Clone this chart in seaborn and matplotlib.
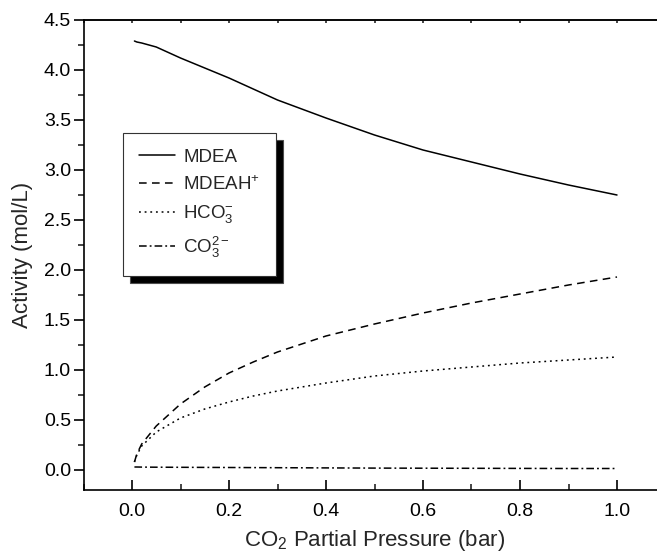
import matplotlib
matplotlib.use("Agg")
import matplotlib.pyplot as plt
from matplotlib.ticker import MultipleLocator, NullFormatter
import seaborn as sns

# CO2 partial pressure (bar)
pressure = [0.005, 0.01, 0.02, 0.05, 0.1, 0.15, 0.2, 0.25, 0.3, 0.4, 0.5, 0.6, 0.7, 0.8, 0.9, 1.0]

# activities (mol/L)
mdea = [4.29, 4.28, 4.27, 4.23, 4.12, 4.02, 3.92, 3.81, 3.70, 3.52, 3.35, 3.20, 3.08, 2.96, 2.85, 2.75]
mdeah = [0.08, 0.16, 0.26, 0.44, 0.66, 0.83, 0.97, 1.08, 1.18, 1.34, 1.46, 1.57, 1.67, 1.76, 1.85, 1.93]
hco3 = [0.08, 0.15, 0.24, 0.38, 0.52, 0.61, 0.68, 0.74, 0.79, 0.87, 0.94, 0.99, 1.03, 1.07, 1.10, 1.13]
co3 = [0.030, 0.030, 0.029, 0.028, 0.027, 0.026, 0.025, 0.024, 0.023, 0.021, 0.019, 0.018, 0.017,
       0.016, 0.015, 0.015]

labels = ["MDEA", r"MDEAH$^{+}$", r"HCO$_3^{-}$", r"CO$_3^{2-}$"]
styles = ["-", (0, (5, 3.5)), (0, (1.2, 2.5)), (0, (5, 2, 1.2, 2))]

sns.set_theme(style="ticks")
plt.rcParams["font.family"] = ["Liberation Sans", "DejaVu Sans"]
plt.rcParams["mathtext.fontset"] = "custom"
plt.rcParams["mathtext.rm"] = "Liberation Sans"
plt.rcParams["mathtext.it"] = "Liberation Sans:italic"
plt.rcParams["mathtext.default"] = "regular"

fig = plt.figure(figsize=(6.57, 5.59), dpi=100)
# axes runs to x=1.1, slightly past the right edge of the picture
ax = fig.add_axes([83.5 / 657, 69 / 559, 582 / 657, 470 / 559])

for y, lab, ls in zip([mdea, mdeah, hco3, co3], labels, styles):
    sns.lineplot(x=pressure, y=y, ax=ax, color="black", linestyle=ls,
                 linewidth=1.1, label=lab, legend=False)

ax.set_xlim(-0.1, 1.1)
ax.set_ylim(-0.2, 4.5)
ax.xaxis.set_major_locator(MultipleLocator(0.2))
ax.xaxis.set_minor_locator(MultipleLocator(0.1))
ax.yaxis.set_major_locator(MultipleLocator(0.5))
ax.yaxis.set_minor_locator(MultipleLocator(0.25))
ax.xaxis.set_major_formatter(plt.FuncFormatter(lambda v, _: f"{v:.1f}"))
ax.yaxis.set_major_formatter(plt.FuncFormatter(lambda v, _: f"{v:.1f}"))

for s in ax.spines.values():
    s.set_linewidth(1.2)
    s.set_color("black")

ax.tick_params(axis="x", which="major", direction="in", length=7, width=1.2,
               labelsize=14, pad=9, colors="black", bottom=True, top=False)
ax.tick_params(axis="x", which="minor", direction="in", length=4, width=1.2,
               bottom=True, top=False)
ax.tick_params(axis="y", which="major", direction="out", length=7, width=1.2,
               labelsize=14, pad=2, colors="black")
ax.tick_params(axis="y", which="minor", direction="out", length=4, width=1.2)

# tiny ticks along the top edge
top = ax.secondary_xaxis("top")
top.xaxis.set_major_locator(MultipleLocator(0.1))
top.xaxis.set_major_formatter(NullFormatter())
top.tick_params(direction="in", length=2, width=1.2)
top.spines["top"].set_linewidth(1.2)

ax.set_xlabel(r"CO$_2$ Partial Pressure (bar)", fontsize=16, labelpad=6)
ax.set_ylabel("Activity (mol/L)", fontsize=16, labelpad=8)

handles, labs = ax.get_legend_handles_labels()
leg = ax.legend(handles, labs, loc="upper left", bbox_to_anchor=(0.068, 0.760),
                borderaxespad=0, fontsize=13.5, frameon=True, fancybox=False,
                handlelength=1.9, handletextpad=0.45, labelspacing=0.5,
                borderpad=0.85,
                shadow={"ox": 5, "oy": -5, "facecolor": "black", "alpha": 1})
leg.get_frame().set_edgecolor("#333333")
leg.get_frame().set_linewidth(0.8)

fig.savefig("out.png", dpi=100)
